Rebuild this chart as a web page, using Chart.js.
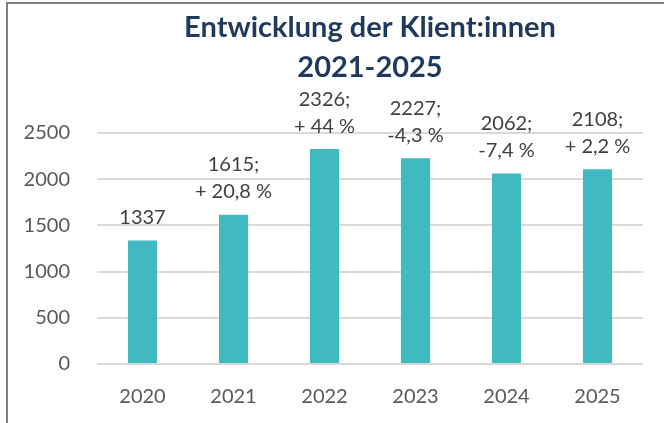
<!DOCTYPE html>
<html>
<head>
<meta charset="utf-8">
<script src="https://cdn.jsdelivr.net/npm/chart.js@4"></script>
<style>
  body { margin: 0; background: #fff; }
  #wrap { position: relative; width: 664px; height: 423px; }
  #frame { position: absolute; left: 6px; top: 2px; right: 0; bottom: 0;
           border-top: 2px solid #808080; border-left: 2px solid #808080; }
  canvas { position: absolute; left: 0; top: 0; }
</style>
</head>
<body>
<div id="wrap">
  <div id="frame"></div>
  <canvas id="bars" width="664" height="423"></canvas>
</div>
<script>
var years = ['2020', '2021', '2022', '2023', '2024', '2025'];
var clients = [1337, 1615, 2326, 2227, 2062, 2108];
var changes = ['', '+ 20,8 %', '+ 44 %', '-4,3 %', '-7,4 %', '+ 2,2 %'];
var yTicks = [0, 500, 1000, 1500, 2000, 2500];

var fontFamily = 'Lato, "Open Sans", sans-serif';
var labelFont = '20px ' + fontFamily;

// draws "1615;" / "+ 20,8 %" above each bar
var barLabels = {
    id: 'barLabels',
    afterDatasetsDraw: function(chart) {
        var ctx = chart.ctx;
        var bars = chart.getDatasetMeta(0).data;
        ctx.save();
        ctx.font = labelFont;
        ctx.fillStyle = '#404040';
        ctx.textAlign = 'center';
        ctx.textBaseline = 'middle';
        bars.forEach(function(bar, i) {
            var lines = changes[i] ? [clients[i] + ';', changes[i]] : [String(clients[i])];
            var y = bar.y - 23;
            for (var k = lines.length - 1; k >= 0; k--) {
                ctx.fillText(lines[k], bar.x, y);
                y -= 27;
            }
        });
        ctx.restore();
    }
};

var ctx = document.getElementById('bars').getContext('2d');
var myChart = new Chart(ctx, {
    type: 'bar',
    data: {
        labels: years,
        datasets: [{
            label: 'Klient:innen',
            data: clients,
            backgroundColor: '#40BAC0',
            barPercentage: 0.32,
            categoryPercentage: 1
        }]
    },
    options: {
        responsive: false,
        animation: false,
        layout: { padding: { left: 0, right: 21, top: 8, bottom: 14 } },
        plugins: {
            legend: { display: false },
            tooltip: { enabled: false },
            title: {
                display: true,
                fullSize: false,
                text: ['Entwicklung der Klient:innen', '2021-2025'],
                color: '#1F3A5C',
                font: { family: fontFamily, size: 29, weight: 'bold', lineHeight: 1.38 },
                padding: { top: 0, bottom: 45 }
            }
        },
        scales: {
            x: {
                afterFit: function(scale) { scale.height = 45; },
                grid: { display: false, drawTicks: false },
                border: { display: false },
                ticks: { color: '#595959', font: { family: fontFamily, size: 20 }, padding: 21 }
            },
            y: {
                min: 0,
                max: 2500,
                afterBuildTicks: function(scale) {
                    scale.ticks = yTicks.map(function(v) { return { value: v }; });
                },
                afterFit: function(scale) { scale.width = 97; },
                grid: { color: '#D9D9D9', lineWidth: 2, drawTicks: false },
                border: { display: false },
                ticks: {
                    color: '#595959',
                    font: { family: fontFamily, size: 20 },
                    padding: 27,
                    callback: function(v) { return String(v); }
                }
            }
        }
    },
    plugins: [barLabels]
});
</script>
</body>
</html>
